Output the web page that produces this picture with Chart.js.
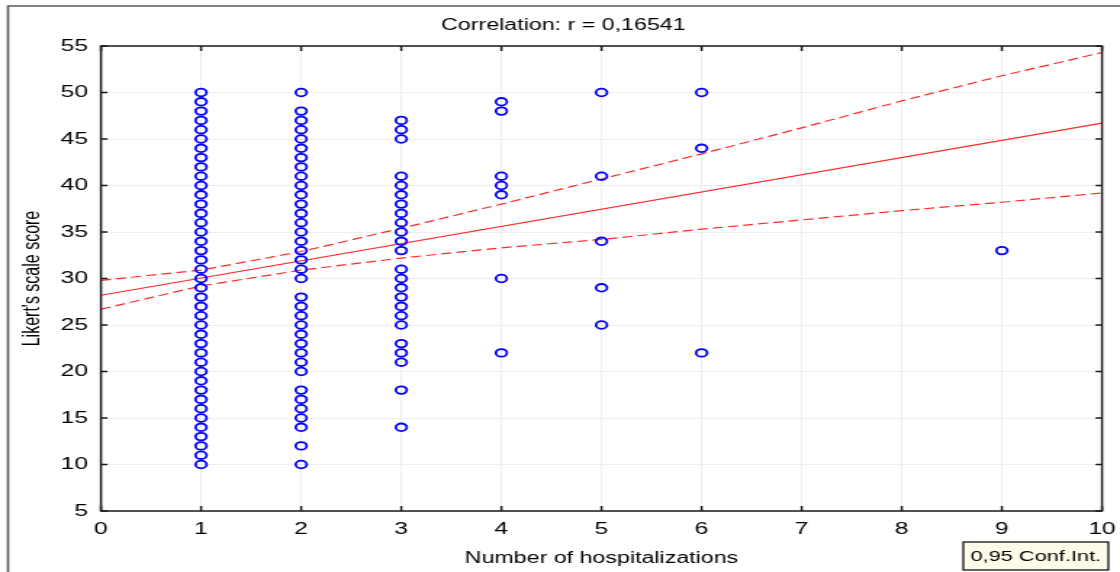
<!DOCTYPE html>
<html>
<head>
<meta charset="utf-8">
<script src="https://cdn.jsdelivr.net/npm/chart.js@4.4.1/dist/chart.umd.min.js"></script>
<style>
  html, body { margin: 0; padding: 0; background: #fff; overflow: hidden; }
</style>
</head>
<body>
<!-- la figura original está estirada en horizontal, el canvas se estira igual -->
<canvas id="grafico" width="772" height="572" style="display:block;width:1120px;height:572px;"></canvas>
<script>
/* datos */
var hospitalizaciones = [1, 2, 3, 4, 5, 6, 9];
var puntos1 = [10, 11, 12, 13, 14, 15, 16, 17, 18, 19, 20, 21, 22, 23, 24, 25, 26, 27, 28, 29, 30,
               31, 32, 33, 34, 35, 36, 37, 38, 39, 40, 41, 42, 43, 44, 45, 46, 47, 48, 49, 50];
var puntos2 = [10, 12, 14, 15, 16, 17, 18, 20, 21, 22, 23, 24, 25, 26, 27, 28, 30, 31, 32, 33,
               34, 35, 36, 37, 38, 39, 40, 41, 42, 43, 44, 45, 46, 47, 48, 50];
var puntos3 = [14, 18, 21, 22, 23, 25, 26, 27, 28, 29, 30, 31, 33, 34, 35, 36, 37, 38, 39, 40,
               41, 45, 46, 47];
var puntos4 = [22, 30, 39, 40, 41, 48, 49];
var puntos5 = [25, 29, 34, 41, 50];
var puntos6 = [22, 44, 50];
var puntos9 = [33];

/* recta de regresión y banda de confianza 0,95 */
var rectaX = [0, 10];
var rectaY = [28.2, 46.7];
var bandaX = [0, 1, 2, 3, 4, 5, 6, 7, 8, 9, 10];
var bandaSup = [29.8, 30.9, 32.9, 35.4, 38.0, 40.7, 43.4, 46.2, 49.1, 51.8, 54.3];
var bandaInf = [26.7, 29.2, 30.9, 32.2, 33.3, 34.2, 35.3, 36.3, 37.3, 38.2, 39.2];

var titulo = "Correlation: r = 0,16541";
var tituloX = "Number of hospitalizations";
var tituloY = "Likert's scale score";
var leyenda = "0,95 Conf.Int.";

var fuente = "'Liberation Sans', Arial, sans-serif";
var rojo = "#ff2a2a";

function pares(xs, ys) {
    var res = [];
    for (var i = 0; i < xs.length; i++) {
        res.push({x: xs[i], y: ys[i]});
    }
    return res;
}

function nube() {
    var columnas = [puntos1, puntos2, puntos3, puntos4, puntos5, puntos6, puntos9];
    var res = [];
    for (var i = 0; i < columnas.length; i++) {
        for (var j = 0; j < columnas[i].length; j++) {
            res.push({x: hospitalizaciones[i], y: columnas[i][j]});
        }
    }
    return res;
}

/* marco exterior, marco del gráfico, marcas hacia dentro y cuadro de leyenda */
var marco = {
    id: "marco",
    beforeDraw: function (chart) {
        var ctx = chart.ctx;
        ctx.save();
        ctx.strokeStyle = "#5a5a5a";
        ctx.lineWidth = 1.6;
        ctx.beginPath();
        ctx.moveTo(5.5, chart.height);
        ctx.lineTo(5.5, 6);
        ctx.lineTo(chart.width, 6);
        ctx.stroke();
        ctx.restore();
    },
    afterDraw: function (chart) {
        var ctx = chart.ctx;
        var a = chart.chartArea;
        var x = chart.scales.x;
        var y = chart.scales.y;
        ctx.save();
        ctx.strokeStyle = "#1a1a1a";
        ctx.lineWidth = 1.5;
        ctx.strokeRect(a.left, a.top, a.right - a.left, a.bottom - a.top);

        ctx.beginPath();
        x.ticks.forEach(function (t) {
            var p = x.getPixelForValue(t.value);
            ctx.moveTo(p, a.bottom);
            ctx.lineTo(p, a.bottom - 5);
            ctx.moveTo(p, a.top);
            ctx.lineTo(p, a.top + 5);
        });
        y.ticks.forEach(function (t) {
            var p = y.getPixelForValue(t.value);
            ctx.moveTo(a.left, p);
            ctx.lineTo(a.left + 4.5, p);
            ctx.moveTo(a.right, p);
            ctx.lineTo(a.right - 4.5, p);
        });
        ctx.stroke();

        // cuadro "0,95 Conf.Int."
        var bx = 664, by = 542, bw = 100, bh = 28;
        ctx.fillStyle = "#fffbea";
        ctx.fillRect(bx, by, bw, bh);
        ctx.strokeStyle = "#000";
        ctx.lineWidth = 1.2;
        ctx.strokeRect(bx, by, bw, bh);
        ctx.fillStyle = "#000";
        ctx.font = "15px " + fuente;
        ctx.textAlign = "center";
        ctx.textBaseline = "middle";
        ctx.fillText(leyenda, bx + bw / 2, by + bh / 2 + 1);
        ctx.restore();
    }
};

function cargaGrafico() {
    var datos = {
        datasets: [{
            label: "Puntos",
            data: nube(),
            borderColor: "#0000ff",
            backgroundColor: "rgba(0, 0, 0, 0)",
            pointRadius: 3.8,
            pointHoverRadius: 3.8,
            pointBorderWidth: 1.8
        }, {
            label: "Recta",
            data: pares(rectaX, rectaY),
            showLine: true,
            borderColor: rojo,
            borderWidth: 1.2,
            pointRadius: 0
        }, {
            label: "Banda sup.",
            data: pares(bandaX, bandaSup),
            showLine: true,
            borderColor: rojo,
            borderWidth: 1.2,
            borderDash: [7, 3.5],
            pointRadius: 0
        }, {
            label: "Banda inf.",
            data: pares(bandaX, bandaInf),
            showLine: true,
            borderColor: rojo,
            borderWidth: 1.2,
            borderDash: [7, 3.5],
            pointRadius: 0
        }]
    };

    var config = {
        type: "scatter",
        data: datos,
        options: {
            responsive: false,
            animation: false,
            devicePixelRatio: 1,
            layout: {
                padding: {left: 17, right: 12.4, top: 0, bottom: 0}
            },
            plugins: {
                legend: {display: false},
                tooltip: {enabled: false},
                title: {
                    display: true,
                    text: titulo,
                    color: "#000",
                    font: {family: fuente, size: 16, weight: "normal"},
                    padding: {top: 16.4, bottom: 10.4}
                }
            },
            scales: {
                x: {
                    type: "linear",
                    min: 0,
                    max: 10,
                    ticks: {
                        stepSize: 1,
                        color: "#000",
                        font: {family: fuente, size: 17},
                        padding: 8
                    },
                    grid: {color: "#eeeeee", drawTicks: false},
                    border: {display: false},
                    title: {
                        display: true,
                        text: tituloX,
                        color: "#000",
                        font: {family: fuente, size: 16},
                        padding: {top: 0, bottom: 4.2}
                    },
                    afterFit: function (s) {
                        s.height = 61;
                        s.paddingLeft = 0;
                        s.paddingRight = 0;
                    }
                },
                y: {
                    min: 5,
                    max: 55,
                    ticks: {
                        stepSize: 5,
                        color: "#000",
                        font: {family: fuente, size: 17},
                        padding: 9
                    },
                    grid: {color: "#eeeeee", drawTicks: false},
                    border: {display: false},
                    title: {
                        display: true,
                        text: tituloY,
                        color: "#000",
                        font: {family: fuente, size: 16},
                        padding: {top: -3.9, bottom: 0}
                    },
                    afterFit: function (s) { s.width = 52.6; }
                }
            }
        },
        plugins: [marco]
    };

    var grafico = document.getElementById("grafico").getContext("2d");
    new Chart(grafico, config);
}

cargaGrafico();
</script>
</body>
</html>
